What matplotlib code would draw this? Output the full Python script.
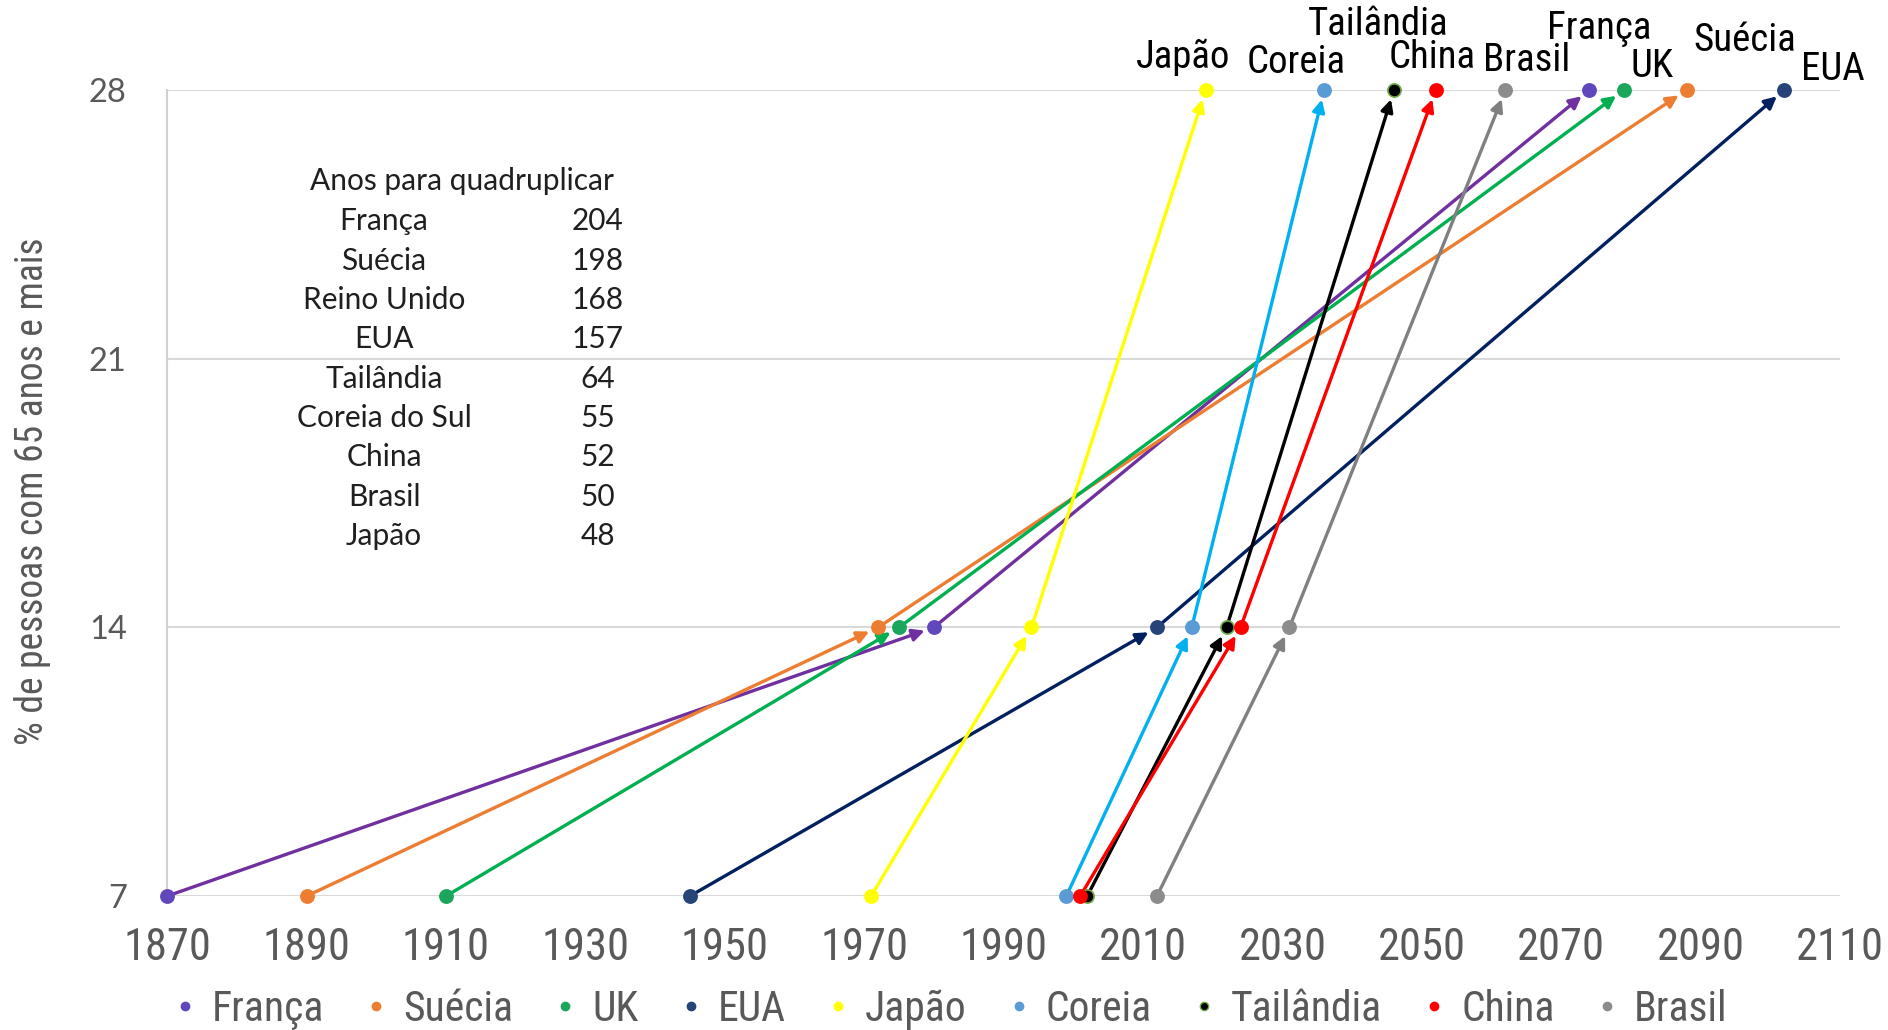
import matplotlib
matplotlib.use("Agg")
import matplotlib.pyplot as plt
from matplotlib.lines import Line2D
from matplotlib import font_manager

# dados: ano em que cada pais chega a 7%, 14% e 28% de idosos
paises  = ['França', 'Suécia', 'UK', 'EUA', 'Japão', 'Coreia', 'Tailândia', 'China', 'Brasil']
ano_7   = [1870, 1890, 1910, 1945, 1971, 1999, 2002, 2001, 2012]
ano_14  = [1980, 1972, 1975, 2012, 1994, 2017, 2022, 2024, 2031]
ano_28  = [2074, 2088, 2079, 2102, 2019, 2036, 2046, 2052, 2062]
niveis  = [7, 14, 21, 28]
anos_ticks = list(range(1870, 2111, 20))

# tabela "anos para quadruplicar"
tab_paises = ['França', 'Suécia', 'Reino Unido', 'EUA', 'Tailândia',
              'Coreia do Sul', 'China', 'Brasil', 'Japão']
tab_anos   = [204, 198, 168, 157, 64, 55, 52, 50, 48]

# estilos
cor_linha = ['#7030A0', '#ED7D31', '#00B050', '#002060', '#FFFF00',
             '#00B0F0', '#000000', '#FF0000', '#808080']
cor_ponto = ['#6048BC', '#ED7D31', '#1BA65C', '#264478', '#FFFF00',
             '#5B9BD5', '#000000', '#FF0000', '#8C8C8C']
borda_ponto = cor_ponto[:6] + ['#70AD47'] + cor_ponto[7:]
# deslocamento dos rotulos do topo (anos, nivel)
rot_dx = [1.5, 8.4, 4.0, 6.9, -3.2, -4.0, -2.3, -0.5, 3.0]
rot_y  = [29.6, 29.29, 28.6, 28.53, 28.85, 28.72, 29.72, 28.85, 28.78]

# fonte estreita (tipo Calibri) se existir
fontes = font_manager.fontManager.ttflist
nomes = {f.name for f in fontes}
fam_n, est_n, esc = 'DejaVu Sans', 'normal', 0.80
for cand in ['Liberation Sans Narrow', 'Roboto Condensed', 'Open Sans Condensed']:
    if cand in nomes:
        fam_n, est_n, esc = cand, 'normal', 1.0
        break
else:
    if any(f.name == 'DejaVu Sans' and f.stretch == 'condensed' for f in fontes):
        fam_n, est_n, esc = 'DejaVu Sans', 'condensed', 0.92

def fn(tam):
    return dict(family=fam_n, fontstretch=est_n, fontsize=tam * esc)

cinza = '#595959'

fig = plt.figure(figsize=(18.88, 10.30), dpi=100)
ax = fig.add_axes([0.0885, 0.130, 0.8861, 0.7826])

for i in range(len(paises)):
    xs = [ano_7[i], ano_14[i], ano_28[i]]
    ys = [7, 14, 28]
    for a in range(2):
        ax.annotate('', xy=(xs[a+1], ys[a+1]), xytext=(xs[a], ys[a]),
                    arrowprops=dict(arrowstyle='-|>', color=cor_linha[i], lw=2.4,
                                    mutation_scale=18, shrinkA=3, shrinkB=7),
                    annotation_clip=False, zorder=2)
    ax.scatter(xs, ys, s=90, color=cor_ponto[i], edgecolor=borda_ponto[i],
               linewidth=1.2, zorder=3, clip_on=False)
    ax.text(ano_28[i] + rot_dx[i], rot_y[i], paises[i], ha='center', va='center',
            color='black', clip_on=False, **fn(28))

ax.set_xlim(1870, 2110)
ax.set_ylim(7, 28)
ax.set_xticks(anos_ticks)
ax.set_yticks(niveis)
ax.grid(axis='y', color='#D9D9D9', lw=1.5)
ax.set_axisbelow(True)
for s in ['top', 'right', 'bottom']:
    ax.spines[s].set_visible(False)
ax.spines['left'].set_color('#D0D0D0')
ax.spines['left'].set_linewidth(1.5)
ax.tick_params(length=0)
ax.tick_params(axis='x', pad=22)
ax.tick_params(axis='y', pad=29)
for t in ax.get_xticklabels():
    t.set_fontfamily(fam_n); t.set_fontstretch(est_n)
    t.set_fontsize(32 * esc); t.set_color(cinza)
for t in ax.get_yticklabels():
    t.set_fontfamily('Lato'); t.set_fontsize(23.5); t.set_color(cinza)

fig.text(0.017, 0.523, '% de pessoas com 65 anos e mais', rotation=90,
         ha='center', va='center', color=cinza, **fn(27))

# tabela
fig.text(0.2447, 0.8243, 'Anos para quadruplicar', ha='center', va='center',
         fontsize=21.5, family='Lato', color='#1F1F1F')
for k in range(len(tab_paises)):
    yk = 0.785 - k * 0.03816
    fig.text(0.2034, yk, tab_paises[k], ha='center', va='center',
             fontsize=21.5, family='Lato', color='#1F1F1F')
    fig.text(0.3167, yk, str(tab_anos[k]), ha='center', va='center',
             fontsize=21.5, family='Lato', color='#1F1F1F')

handles = [Line2D([], [], marker='o', ls='none', ms=6, color=cor_ponto[i],
                  markeredgecolor=borda_ponto[i]) for i in range(len(paises))]
prop_leg = font_manager.FontProperties(family=fam_n, stretch=est_n, size=30 * esc)
fig.legend(handles, paises, loc='center', bbox_to_anchor=(0.502, 0.02), ncol=9,
           frameon=False, prop=prop_leg, labelcolor=cinza,
           handletextpad=0.25, columnspacing=0.85, handlelength=0.8)

fig.savefig('out.png', dpi=100)
